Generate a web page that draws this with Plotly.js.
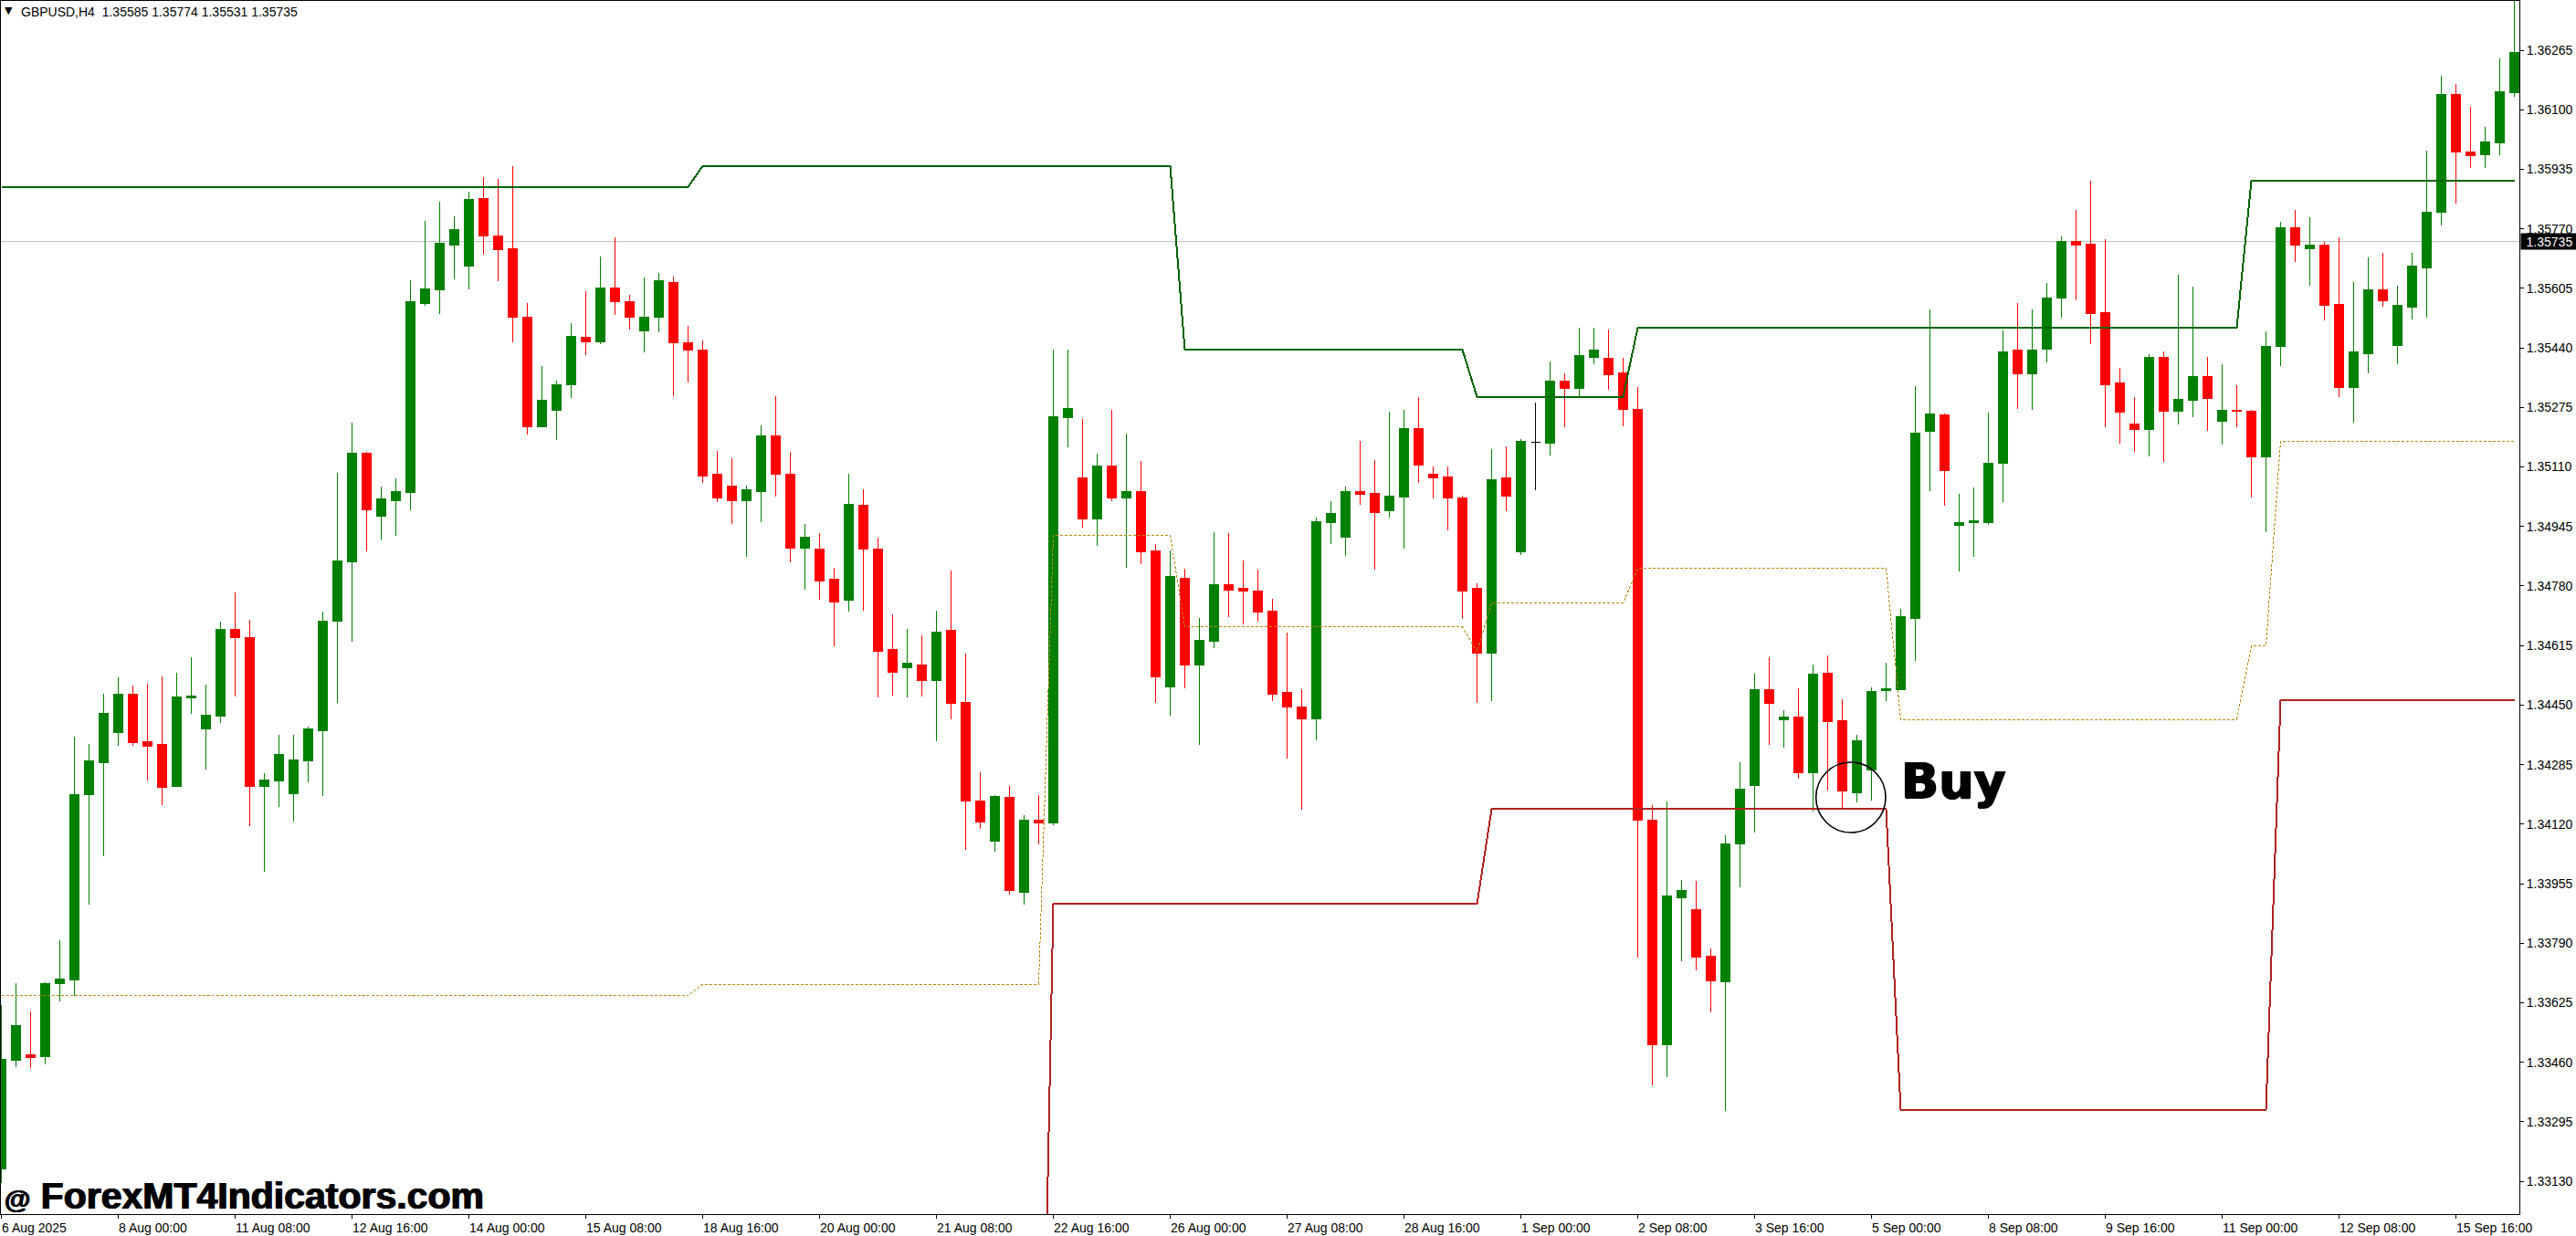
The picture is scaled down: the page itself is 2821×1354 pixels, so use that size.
<!DOCTYPE html>
<html>
<head>
<meta charset="utf-8">
<title>GBPUSD,H4</title>
<script src="https://cdn.plot.ly/plotly-3.0.1.min.js"></script>
<style>
  html, body { margin: 0; padding: 0; background: #fff; }
  .trace path { shape-rendering: crispEdges; }
</style>
</head>
<body>
<div id="chart" style="width: 2821px; height: 1354px;"></div>
<script>
const opens = [
  1.33165,1.33466,1.33480,1.33476,1.33677,1.33687,1.34202,1.34291,1.34375,1.34479,
  1.34348,1.34342,1.34224,1.34469,1.34383,1.34419,1.34659,1.34636,1.34224,1.34241,
  1.34205,1.34295,1.34378,1.34682,1.34846,1.35149,1.34974,1.35017,1.35040,1.35564,
  1.35600,1.35726,1.35668,1.35855,1.35751,1.35716,1.35526,1.35222,1.35268,1.35339,
  1.35470,1.35458,1.35607,1.35569,1.35488,1.35524,1.35622,1.35455,1.35435,1.35089,
  1.35058,1.35017,1.35042,1.35197,1.35091,1.34886,1.34883,1.34798,1.34740,1.35005,
  1.34883,1.34603,1.34554,1.34562,1.34519,1.34656,1.34458,1.34185,1.34074,1.34195,
  1.33932,1.34132,1.34124,1.35248,1.35081,1.34967,1.35112,1.35023,1.35043,1.34878,
  1.34500,1.34802,1.34562,1.34628,1.34785,1.34773,1.34767,1.34711,1.34484,1.34446,
  1.34411,1.34957,1.34916,1.35043,1.35038,1.34988,1.35027,1.35217,1.35089,1.35083,
  1.35025,1.34773,1.34593,1.35079,1.34876,null,1.35177,1.35349,1.35327,1.35414,
  1.35412,1.35370,1.35269,1.34132,1.33509,1.33916,1.33884,1.33754,1.33682,1.34066,
  1.34228,1.34494,1.34410,1.34418,1.34263,1.34539,1.34406,1.34208,1.34271,1.34490,
  1.34494,1.34691,1.35210,1.35255,1.34949,1.34957,1.34957,1.35119,1.35433,1.35367,
  1.35437,1.35577,1.35736,1.35728,1.35538,1.35344,1.35228,1.35215,1.35414,1.35265,
  1.35296,1.35360,1.35236,1.35268,1.35265,1.35139,1.35443,1.35772,1.35716,1.35726,
  1.35561,1.35331,1.35425,1.35600,1.35447,1.35552,1.35662,1.35815,1.36143,1.35984,
  1.35976,1.36009,1.36148
];
const highs = [
  1.33618,1.33679,1.33601,1.33683,1.33799,1.34363,1.34342,1.34482,1.34527,1.34504,
  1.34509,1.34530,1.34539,1.34583,1.34507,1.34682,1.34762,1.34686,1.34261,1.34367,
  1.34367,1.34390,1.34709,1.35094,1.35232,1.35153,1.35057,1.35079,1.35627,1.35792,
  1.35844,1.35805,1.35873,1.35914,1.35908,1.35943,1.35564,1.35389,1.35349,1.35509,
  1.35596,1.35693,1.35746,1.35587,1.35635,1.35648,1.35637,1.35501,1.35460,1.35154,
  1.35134,1.35058,1.35225,1.35306,1.35152,1.34951,1.34926,1.34831,1.35091,1.35048,
  1.34914,1.34701,1.34662,1.34643,1.34711,1.34823,1.34592,1.34264,1.34200,1.34226,
  1.34145,1.34200,1.35435,1.35435,1.35242,1.35147,1.35269,1.35203,1.35126,1.34897,
  1.34878,1.34828,1.34692,1.34930,1.34926,1.34851,1.34825,1.34744,1.34651,1.34494,
  1.34969,1.35015,1.35056,1.35182,1.35129,1.35263,1.35269,1.35304,1.35112,1.35112,
  1.35030,1.34787,1.35159,1.35167,1.35187,null,1.35402,1.35370,1.35496,1.35496,
  1.35490,1.35412,1.35331,1.34173,1.34182,1.33965,1.33963,1.33775,1.34089,1.34292,
  1.34537,1.34582,1.34435,1.34496,1.34563,1.34587,1.34466,1.34368,1.34499,1.34568,
  1.34716,1.35334,1.35546,1.35258,1.35036,1.35053,1.35261,1.35488,1.35564,1.35546,
  1.35620,1.35749,1.35822,1.35903,1.35741,1.35385,1.35304,1.35422,1.35430,1.35643,
  1.35610,1.35414,1.35395,1.35336,1.35268,1.35485,1.35790,1.35822,1.35802,1.35734,
  1.35746,1.35622,1.35691,1.35703,1.35612,1.35703,1.35987,1.36194,1.36171,1.36108,
  1.36052,1.36242,1.36420
];
const lows = [
  1.33125,1.33447,1.33444,1.33455,1.33628,1.33645,1.33898,1.34031,1.34337,1.34337,
  1.34240,1.34174,1.34224,1.34426,1.34272,1.34400,1.34474,1.34115,1.33988,1.34168,
  1.34127,1.34236,1.34198,1.34457,1.34626,1.34876,1.34906,1.34918,1.34990,1.35557,
  1.35534,1.35629,1.35602,1.35699,1.35625,1.35455,1.35199,1.35222,1.35185,1.35301,
  1.35420,1.35451,1.35531,1.35491,1.35428,1.35483,1.35306,1.35344,1.35065,1.35013,
  1.34951,1.34860,1.34957,1.35028,1.34846,1.34769,1.34742,1.34613,1.34709,1.34711,
  1.34471,1.34476,1.34471,1.34474,1.34350,1.34411,1.34049,1.34107,1.34043,1.33925,
  1.33897,1.34064,1.34117,1.35164,1.34942,1.34891,1.35015,1.34831,1.34841,1.34456,
  1.34421,1.34496,1.34339,1.34608,1.34694,1.34674,1.34682,1.34461,1.34302,1.34160,
  1.34353,1.34897,1.34864,1.35004,1.34825,1.34969,1.34883,1.35066,1.35023,1.34934,
  1.34688,1.34456,1.34461,1.34988,1.34866,null,1.35141,1.35220,1.35304,1.35395,
  1.35323,1.35222,1.33749,1.33396,1.33418,1.33740,1.33714,1.33599,1.33326,1.33944,
  1.34097,1.34339,1.34332,1.34246,1.34154,1.34213,1.34163,1.34180,1.34185,1.34461,
  1.34494,1.34572,1.35044,1.35003,1.34821,1.34860,1.34949,1.35013,1.35271,1.35268,
  1.35400,1.35524,1.35571,1.35451,1.35220,1.35174,1.35153,1.35139,1.35124,1.35228,
  1.35248,1.35210,1.35172,1.35220,1.35025,1.34930,1.35389,1.35678,1.35612,1.35516,
  1.35304,1.35232,1.35369,1.35554,1.35395,1.35519,1.35524,1.35779,1.35840,1.35939,
  1.35939,1.35974,1.36137
];
const closes = [
  1.33468,1.33563,1.33473,1.33679,1.33690,1.34203,1.34295,1.34428,1.34479,1.34345,
  1.34337,1.34221,1.34472,1.34476,1.34421,1.34659,1.34636,1.34224,1.34243,1.34314,
  1.34299,1.34383,1.34682,1.34850,1.35149,1.34992,1.35021,1.35042,1.35567,1.35604,
  1.35731,1.35767,1.35852,1.35751,1.35713,1.35524,1.35222,1.35294,1.35339,1.35473,
  1.35458,1.35607,1.35567,1.35526,1.35526,1.35625,1.35455,1.35433,1.35086,1.35025,
  1.35017,1.35046,1.35195,1.35091,1.34886,1.34916,1.34795,1.34736,1.35007,1.34883,
  1.34600,1.34542,1.34565,1.34517,1.34653,1.34456,1.34183,1.34127,1.34198,1.33935,
  1.34132,1.34124,1.35250,1.35271,1.34967,1.35112,1.35023,1.35043,1.34876,1.34529,
  1.34806,1.34560,1.34630,1.34785,1.34769,1.34767,1.34709,1.34481,1.34444,1.34411,
  1.34959,1.34980,1.35043,1.35035,1.34984,1.35030,1.35217,1.35116,1.35081,1.35023,
  1.34767,1.34595,1.35075,1.35030,1.35180,null,1.35349,1.35327,1.35418,1.35435,
  1.35366,1.35269,1.34130,1.33509,1.33920,1.33935,1.33752,1.33685,1.34066,1.34216,
  1.34494,1.34456,1.34418,1.34263,1.34537,1.34403,1.34211,1.34352,1.34489,1.34496,
  1.34694,1.35205,1.35258,1.35101,1.34957,1.34960,1.35121,1.35428,1.35369,1.35435,
  1.35579,1.35734,1.35724,1.35536,1.35339,1.35263,1.35215,1.35414,1.35265,1.35298,
  1.35360,1.35301,1.35268,1.35265,1.35139,1.35445,1.35772,1.35726,1.35724,1.35557,
  1.35331,1.35428,1.35600,1.35571,1.35557,1.35666,1.35817,1.36143,1.35982,1.35972,
  1.36012,1.36151,1.36260
];

// the one black cross, MT4 draws open == close in its own colour
const dojiBar = [105];
const dojiOpen = [1.35179];
const dojiHigh = [1.35288];
const dojiLow = [1.35046];
const dojiClose = [1.35179];

const upperBars = [0, 47, 48, 80, 81, 100, 101, 111, 112, 153, 154, 172];
const upperLevels = [1.35886, 1.35886, 1.35944, 1.35944, 1.35435, 1.35435, 1.35304, 1.35304, 1.35496, 1.35496, 1.35904, 1.35904];

const lowerBars = [71, 72, 101, 102, 129, 130, 155, 156, 172];
const lowerLevels = [1.31875, 1.33899, 1.33899, 1.34162, 1.34162, 1.33328, 1.33328, 1.34463, 1.34463];

const midBars = [0, 47, 48, 71, 72, 80, 81, 100, 101, 102, 111, 112, 129, 130, 153, 154, 155, 156, 172];
const midLevels = [1.33645, 1.33645, 1.33676, 1.33676, 1.34921, 1.34921, 1.34667, 1.34667, 1.34598, 1.34733, 1.34733, 1.34829, 1.34829, 1.34410, 1.34410, 1.34614, 1.34614, 1.35181, 1.35181];

const priceTicks = [1.36265, 1.36100, 1.35935, 1.35770, 1.35605, 1.35440, 1.35275, 1.35110, 1.34945, 1.34780, 1.34615, 1.34450, 1.34285, 1.34120, 1.33955, 1.33790, 1.33625, 1.33460, 1.33295, 1.33130];
const priceLabels = ["1.36265", "1.36100", "1.35935", "1.35770", "1.35605", "1.35440", "1.35275", "1.35110", "1.34945", "1.34780", "1.34615", "1.34450", "1.34285", "1.34120", "1.33955", "1.33790", "1.33625", "1.33460", "1.33295", "1.33130"];
const timeTicks = [0, 8, 16, 24, 32, 40, 48, 56, 64, 72, 80, 88, 96, 104, 112, 120, 128, 136, 144, 152, 160, 168];
const timeLabels = ["6 Aug 2025", "8 Aug 00:00", "11 Aug 08:00", "12 Aug 16:00", "14 Aug 00:00", "15 Aug 08:00", "18 Aug 16:00", "20 Aug 00:00", "21 Aug 08:00", "22 Aug 16:00", "26 Aug 00:00", "27 Aug 08:00", "28 Aug 16:00", "1 Sep 00:00", "2 Sep 08:00", "3 Sep 16:00", "5 Sep 00:00", "8 Sep 08:00", "9 Sep 16:00", "11 Sep 00:00", "12 Sep 08:00", "15 Sep 16:00"];

const lastPrice = 1.35735;
const header = "GBPUSD,H4\u00a0\u00a01.35585 1.35774 1.35531 1.35735";

const axisFont = { family: "Liberation Sans", size: 14, color: "#000" };
const bars = opens.map((_, i) => i);

const candle = (x, o, h, l, c, up, down) => ({
  type: "candlestick",
  x: x, open: o, high: h, low: l, close: c,
  increasing: { line: { color: up, width: 1 }, fillcolor: up },
  decreasing: { line: { color: down, width: 1 }, fillcolor: down },
  hoverinfo: "skip",
  showlegend: false,
});

const level = (x, y, color, width, dash) => ({
  type: "scatter",
  mode: "lines",
  x: x, y: y,
  line: { color: color, width: width, dash: dash || "solid" },
  hoverinfo: "skip",
  showlegend: false,
});

const data = [
  candle(bars, opens, highs, lows, closes, "#008000", "#ff0000"),
  candle(dojiBar, dojiOpen, dojiHigh, dojiLow, dojiClose, "#000", "#000"),
  level(midBars, midLevels, "#b8860b", 1, "3px,2px"),
  level(upperBars, upperLevels, "#006400", 2),
  level(lowerBars, lowerLevels, "#b22222", 2),
];

const timeNotes = timeTicks.map((t, i) => ({
  xref: "x", yref: "paper",
  x: t, y: 0,
  xanchor: "left", yanchor: "top",
  xshift: -2, yshift: -5,
  text: timeLabels[i],
  showarrow: false,
  font: axisFont,
}));

const layout = {
  width: 2821,
  height: 1354,
  margin: { l: 1, r: 62, t: 1, b: 24, pad: 0 },
  paper_bgcolor: "#fff",
  plot_bgcolor: "#fff",
  showlegend: false,
  boxmode: "overlay",
  boxgap: 0.375,
  boxgroupgap: 0,
  xaxis: {
    type: "linear",
    range: [-0.03125, 172.34375],
    rangeslider: { visible: false },
    showgrid: false,
    zeroline: false,
    showline: true,
    mirror: true,
    linecolor: "#000",
    linewidth: 1,
    tickmode: "array",
    tickvals: timeTicks,
    ticktext: timeTicks.map(() => ""),
    ticks: "outside",
    ticklen: 4,
    tickwidth: 1,
    tickcolor: "#000",
    showticklabels: false,
  },
  yaxis: {
    side: "right",
    range: [1.330393, 1.364017],
    showgrid: false,
    zeroline: false,
    showline: true,
    mirror: true,
    linecolor: "#000",
    linewidth: 1,
    tickmode: "array",
    tickvals: priceTicks,
    ticktext: priceLabels,
    ticks: "outside",
    ticklen: 4,
    tickwidth: 1,
    tickcolor: "#000",
    tickfont: axisFont,
  },
  shapes: [
    {
      type: "line", layer: "below",
      xref: "paper", x0: 0, x1: 1,
      yref: "y", y0: lastPrice, y1: lastPrice,
      line: { color: "#c0c0c0", width: 1 },
    },
    {
      type: "circle",
      xref: "x", x0: 124.2, x1: 128.97,
      yref: "y", y0: 1.340968, y1: 1.342916,
      line: { color: "#000", width: 1.6 },
    },
  ],
  annotations: timeNotes.concat([
    {
      xref: "paper", yref: "y",
      x: 1, y: lastPrice,
      xanchor: "left", yanchor: "middle",
      xshift: 1,
      width: 60, height: 15,
      align: "center",
      text: "1.35735",
      showarrow: false,
      bgcolor: "#000",
      font: { family: "Liberation Sans", size: 14, color: "#fff" },
    },
    {
      xref: "paper", yref: "paper",
      x: 0, y: 1,
      xanchor: "left", yanchor: "top",
      xshift: 2, yshift: -2,
      text: "\u25bc",
      showarrow: false,
      font: { family: "DejaVu Sans", size: 11, color: "#000" },
    },
    {
      xref: "paper", yref: "paper",
      x: 0, y: 1,
      xanchor: "left", yanchor: "top",
      xshift: 20, yshift: -2,
      text: header,
      showarrow: false,
      font: axisFont,
    },
    {
      xref: "x", yref: "y",
      x: 133.6, y: 1.3424,
      xanchor: "center", yanchor: "middle",
      text: "Buy",
      showarrow: false,
      font: { family: "DejaVu Sans", size: 54, weight: 700, color: "#000", shadow: "1px 0 0 #000, -1px 0 0 #000, 0 1px 0 #000" },
    },
    {
      xref: "paper", yref: "paper",
      x: 0, y: 0,
      xanchor: "left", yanchor: "bottom",
      xshift: 2, yshift: -5,
      text: "<span style=\"font-size:29px\">@</span> ForexMT4Indicators.com",
      showarrow: false,
      font: { family: "Liberation Sans", size: 41, weight: 700, color: "#000", shadow: "0.7px 0 0 #000, -0.7px 0 0 #000" },
    },
  ]),
};

Plotly.newPlot("chart", data, layout, { displayModeBar: false, staticPlot: true });
</script>
</body>
</html>
